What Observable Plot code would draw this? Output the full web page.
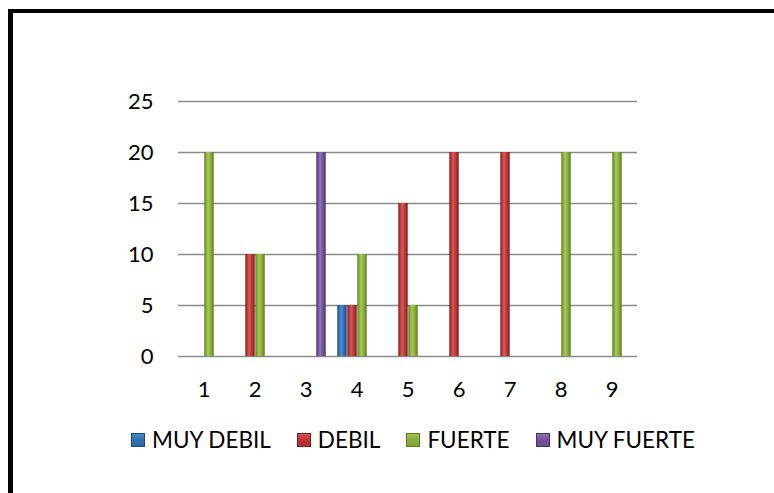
<!DOCTYPE html>
<html><head><meta charset="utf-8">
<script src="https://cdn.jsdelivr.net/npm/d3@7"></script>
<script src="https://cdn.jsdelivr.net/npm/@observablehq/plot@0.6"></script>
<style>
html,body{margin:0;padding:0;background:#fff;width:774px;height:493px;overflow:hidden;font-family:Lato,sans-serif;}
#frameTop{position:absolute;left:8px;top:9px;width:766px;height:4px;background:#000;}
#frameLeft{position:absolute;left:8px;top:9px;width:5px;height:484px;background:#000;}
#chart{position:absolute;left:0;top:0;}
#legend{position:absolute;left:131px;top:428px;display:flex;align-items:center;gap:26px;font-size:22.5px;line-height:24px;color:#000;}
.item{display:flex;align-items:center;gap:7px;}
.sw{width:14px;height:14px;}
</style></head><body>
<div id="chart"></div>
<div id="frameTop"></div>
<div id="frameLeft"></div>
<div id="legend"></div>
<script>
const categories = ["1","2","3","4","5","6","7","8","9"];
const seriesNames = ["MUY DEBIL","DEBIL","FUERTE","MUY FUERTE"];
const muyDebil  = [0, 0, 0, 5, 0, 0, 0, 0, 0];
const debil     = [0,10, 0, 5,15,20,20, 0, 0];
const fuerte    = [20,10,0,10, 5, 0, 0,20,20];
const muyFuerte = [0, 0,20, 0, 0, 0, 0, 0, 0];
const yTicks = [0,5,10,15,20,25];

const seriesValues = [muyDebil, debil, fuerte, muyFuerte];
const gradStops = [
  ["#1b4a80","#2e6fb6","#4d8fd2","#2a67ab","#1a467c"],
  ["#7e1e1e","#bd3535","#d65a58","#b43030","#781c1c"],
  ["#5b7a20","#88ad37","#a7ca58","#84a633","#587620"],
  ["#4a346b","#71539c","#9075b9","#6a4e93","#463168"]
];
const gradIds = ["gBlue","gRed","gGreen","gPurple"];

const data = [];
seriesNames.forEach((s,i)=>seriesValues[i].forEach((v,j)=>{ if(v>0) data.push({cat:categories[j], series:s, value:v}); }));

const chart = Plot.plot({
  width:774, height:430,
  marginLeft:178, marginRight:137, marginTop:101, marginBottom:74,
  style:{fontFamily:"Lato, sans-serif", fontSize:"22px", color:"#000", background:"transparent"},
  fx:{domain:categories, padding:0, label:null, tickSize:0, tickPadding:25, axis:"bottom"},
  x:{domain:seriesNames, paddingInner:0, paddingOuter:0.4, axis:null},
  y:{domain:[0,25], ticks:5, tickSize:0, tickPadding:25, label:null},
  color:{domain:seriesNames, range:gradIds.map(id=>`url(#${id})`)},
  marks:[
    Plot.ruleY(yTicks,{stroke:"#8a8a8a", strokeWidth:1.6}),
    Plot.barY(data,{fx:"cat", x:"series", y:"value", fill:"series", insetLeft:0.3, insetRight:0.3})
  ]
});

const NS = "http://www.w3.org/2000/svg";
const defs = document.createElementNS(NS,"defs");
gradIds.forEach((id,i)=>{
  const g = document.createElementNS(NS,"linearGradient");
  g.setAttribute("id",id); g.setAttribute("x1","0"); g.setAttribute("x2","1"); g.setAttribute("y1","0"); g.setAttribute("y2","0");
  [0,0.2,0.4,0.75,1].forEach((o,k)=>{
    const st = document.createElementNS(NS,"stop");
    st.setAttribute("offset",o); st.setAttribute("stop-color",gradStops[i][k]);
    g.appendChild(st);
  });
  defs.appendChild(g);
});
chart.insertBefore(defs, chart.firstChild);
document.getElementById("chart").appendChild(chart);

const legend = document.getElementById("legend");
seriesNames.forEach((s,i)=>{
  const it = document.createElement("div"); it.className="item";
  const sw = document.createElement("div"); sw.className="sw";
  const c = gradStops[i];
  sw.style.background = `linear-gradient(180deg, ${c[2]} 0%, ${c[1]} 45%, ${c[3]} 100%)`;
  sw.style.boxShadow = `inset 0 0 0 1px ${c[4]}`;
  const tx = document.createElement("span"); tx.textContent = s;
  it.appendChild(sw); it.appendChild(tx); legend.appendChild(it);
});
</script>
</body></html>
